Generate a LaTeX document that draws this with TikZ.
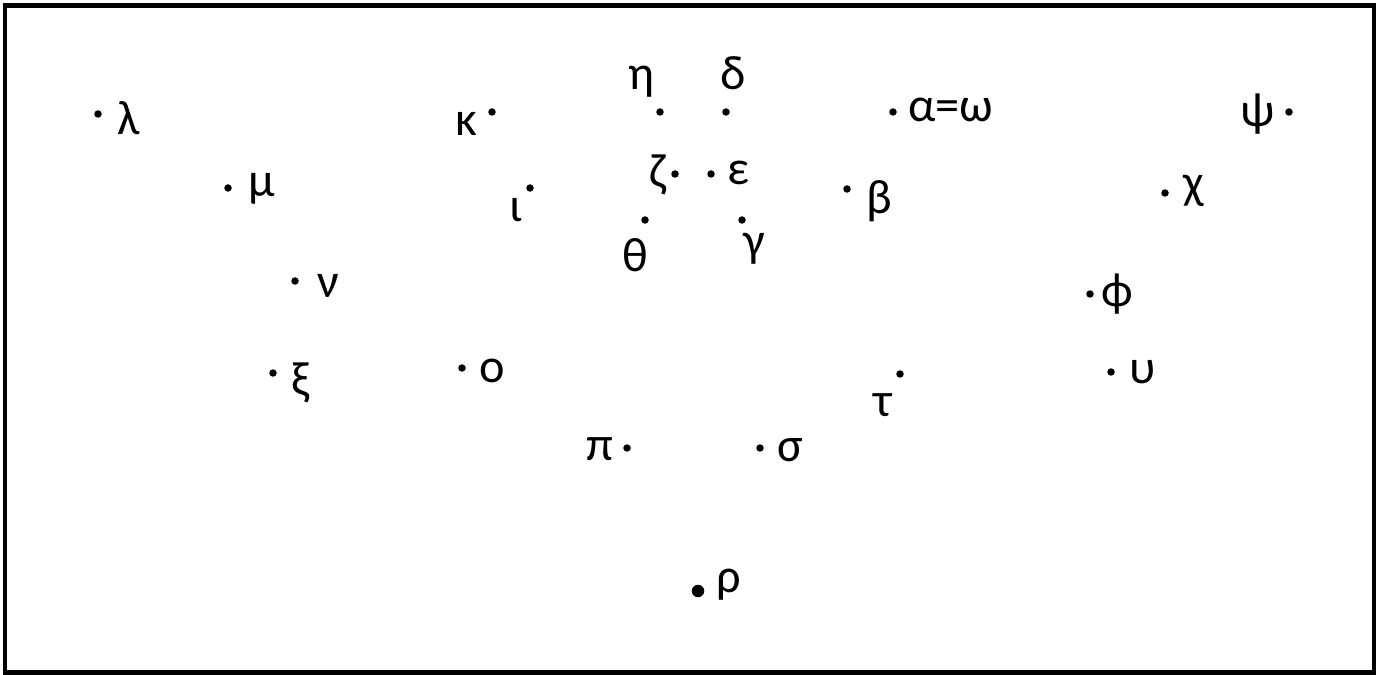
\documentclass[tikz,border=0pt]{standalone}
\usepackage{fontspec}
\setmainfont{Carlito}
\usepackage{tikz}
\usetikzlibrary{positioning,calc}

\begin{document}
\begin{tikzpicture}[
    x=0.02cm, y=-0.02cm,
    dot/.style={circle, fill=black, inner sep=0pt, minimum size=0.15cm},
    bigdot/.style={circle, fill=black, inner sep=0pt, minimum size=0.25cm},
    lbl/.style={inner sep=0pt, font=\fontsize{27.5}{33}\selectfont}
]
\useasboundingbox (0,0) rectangle (1379,675);

% frame
\draw[line width=0.09cm] (5,5.5) rectangle (1374,672.5);

% left group
\node[dot] (lam) at (98,114) {};
\node[lbl] (lamT) at ($(lam)+(31,4)$) {λ};
\node[dot] (mu) at (228,188) {};
\node[lbl] (muT) at ($(mu)+(34,1)$) {μ};
\node[dot] (nu) at (295,281) {};
\node[lbl] (nuT) at ($(nu)+(33,5)$) {ν};
\node[dot] (xi) at (273,373) {};
\node[lbl] (xiT) at ($(xi)+(28,10)$) {ξ};
\node[dot] (omi) at (462,368) {};
\node[lbl] (omiT) at ($(omi)+(30,3)$) {ο};

% centre cluster
\node[dot] (kap) at (492,112) {};
\node[lbl] (kapT) at ($(kap)+(-26,12)$) {κ};
\node[dot] (iota) at (530,188) {};
\node[lbl] (iotaT) at ($(iota)+(-14,22)$) {ι};
\node[dot] (eta) at (660,112) {};
\node[lbl] (etaT) at ($(eta)+(-19,-30)$) {η};
\node[dot] (delta) at (726,112) {};
\node[lbl] (deltaT) at ($(delta)+(7,-39)$) {δ};
\node[dot] (zeta) at (675,174) {};
\node[lbl] (zetaT) at ($(zeta)+(-17,1)$) {ζ};
\node[dot] (eps) at (711,174) {};
\node[lbl] (epsT) at ($(eps)+(27,-1)$) {ε};
\node[dot] (theta) at (645,220) {};
\node[lbl] (thetaT) at ($(theta)+(-10,35)$) {θ};
\node[dot] (gam) at (742,220) {};
\node[lbl] (gamT) at ($(gam)+(12,29)$) {γ};
\node[dot] (aw) at (893,112) {};
\node[lbl] (awT) at ($(aw)+(58,-2)$) {α=ω};
\node[dot] (beta) at (847,189) {};
\node[lbl] (betaT) at ($(beta)+(32,12)$) {β};

% right group
\node[dot] (psi) at (1289,112) {};
\node[lbl] (psiT) at ($(psi)+(-31,2)$) {ψ};
\node[dot] (chi) at (1165,193) {};
\node[lbl] (chiT) at ($(chi)+(29,-2)$) {χ};
\node[dot] (phi) at (1090,294) {};
\node[lbl] (phiT) at ($(phi)+(27,0)$) {ϕ};
\node[dot] (ups) at (1111,372) {};
\node[lbl] (upsT) at ($(ups)+(32,0)$) {υ};

% lower arc
\node[dot] (tau) at (900,374) {};
\node[lbl] (tauT) at ($(tau)+(-17,31)$) {τ};
\node[dot] (pi) at (627,448) {};
\node[lbl] (piT) at ($(pi)+(-27,1)$) {π};
\node[dot] (sig) at (760,448) {};
\node[lbl] (sigT) at ($(sig)+(30,2)$) {σ};
\node[bigdot] (rho) at (698,591) {};
\node[lbl] (rhoT) at ($(rho)+(31,-6)$) {ρ};

\end{tikzpicture}
\end{document}
